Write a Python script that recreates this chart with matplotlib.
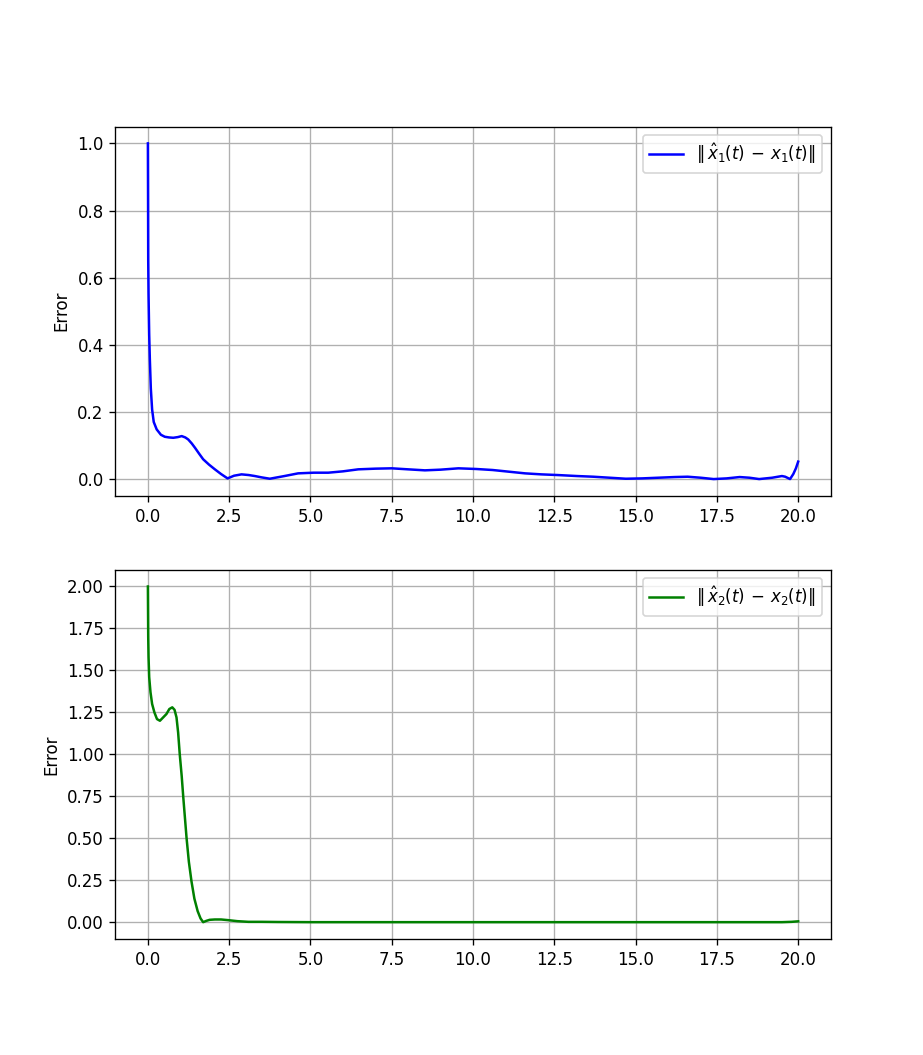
import matplotlib
matplotlib.use("Agg")
import matplotlib.pyplot as plt

# Error of state 1 estimate
t1 = [0.0, 0.005, 0.01, 0.02, 0.04, 0.06, 0.09, 0.13, 0.18, 0.27, 0.4, 0.52, 0.65, 0.78, 0.92,
      1.04, 1.15, 1.24, 1.35, 1.45, 1.58, 1.70, 1.88, 2.06, 2.25, 2.45, 2.65, 2.88, 3.1, 3.29,
      3.5, 3.75, 4.2, 4.62, 5.1, 5.55, 6.0, 6.47, 7.0, 7.5, 8.0, 8.52, 9.0, 9.55, 10.1, 10.6,
      11.1, 11.6, 12.1, 12.6, 13.2, 13.7, 14.2, 14.7, 15.2, 15.7, 16.2, 16.6, 17.0, 17.4,
      17.8, 18.2, 18.5, 18.8, 19.2, 19.5, 19.6, 19.75, 19.85, 19.93, 20.0]
e1 = [1.0, 0.85, 0.654, 0.55, 0.43, 0.357, 0.27, 0.207, 0.17, 0.148, 0.132, 0.126, 0.124, 0.123, 0.125,
      0.128, 0.124, 0.118, 0.106, 0.093, 0.075, 0.059, 0.043, 0.029, 0.015, 0.002, 0.010, 0.014, 0.012, 0.009,
      0.005, 0.001, 0.009, 0.017, 0.019, 0.019, 0.023, 0.029, 0.031, 0.032, 0.029, 0.026, 0.028, 0.032, 0.030, 0.027,
      0.022, 0.017, 0.014, 0.012, 0.009, 0.007, 0.004, 0.001, 0.002, 0.004, 0.006, 0.007, 0.004, 0.0,
      0.002, 0.006, 0.004, 0.0, 0.004, 0.009, 0.007, 0.0, 0.015, 0.032, 0.052]

# Error of state 2 estimate
t2 = [0.0, 0.005, 0.01, 0.02, 0.04, 0.08, 0.13, 0.2, 0.28, 0.37, 0.47, 0.57, 0.66, 0.75, 0.82,
      0.88, 0.93, 0.98, 1.04, 1.09, 1.14, 1.19, 1.26, 1.34, 1.43, 1.53, 1.62, 1.70, 1.8, 1.9,
      2.06, 2.25, 2.47, 2.75, 3.09, 3.5, 4.0, 5.0, 10.0, 15.0, 19.5, 19.8, 20.0]
e2 = [2.0, 1.85, 1.70, 1.58, 1.46, 1.37, 1.30, 1.25, 1.21, 1.20, 1.22, 1.24, 1.27, 1.28, 1.265,
      1.22, 1.13, 1.00, 0.87, 0.74, 0.62, 0.50, 0.36, 0.244, 0.14, 0.066, 0.022, 0.0, 0.008, 0.014,
      0.016, 0.016, 0.012, 0.006, 0.002, 0.002, 0.001, 0.0, 0.0, 0.0, 0.0, 0.002, 0.005]

DPI = 120
fig, (ax1, ax2) = plt.subplots(2, 1, figsize=(923 / DPI, 1055 / DPI), dpi=DPI)

ax1.plot(t1, e1, color='blue', label=r'$\|\,\hat{x}_1(t)\,-\,x_1(t)\|$')
ax1.set_ylabel('Error')
ax1.grid(True)
ax1.legend(loc='upper right')

ax2.plot(t2, e2, color='green', label=r'$\|\,\hat{x}_2(t)\,-\,x_2(t)\|$')
ax2.set_ylabel('Error')
ax2.grid(True)
ax2.legend(loc='upper right')

fig.savefig('out.png', dpi=DPI)
